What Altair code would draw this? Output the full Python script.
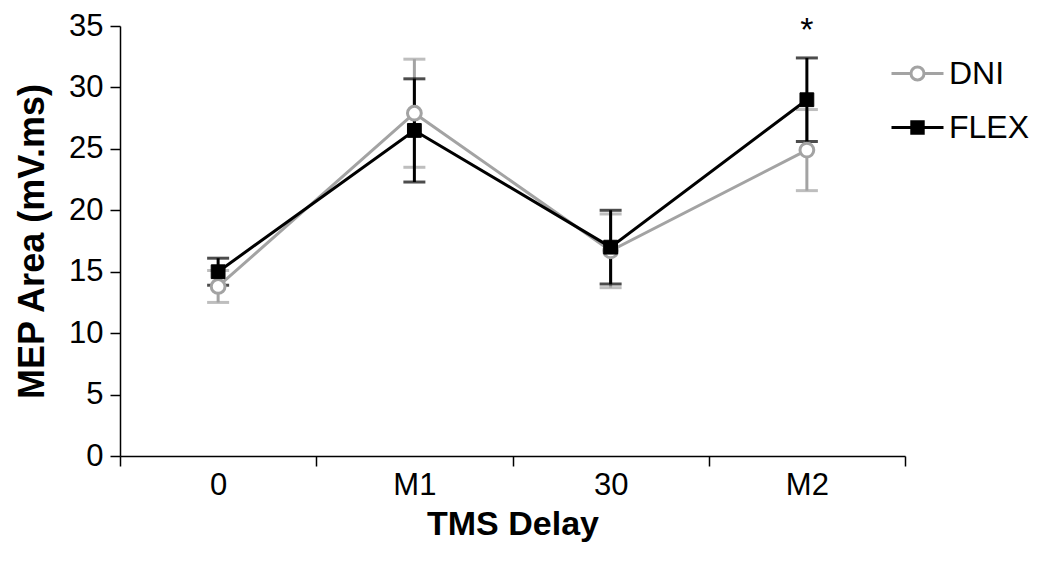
import altair as alt
import pandas as pd

cats = ["0", "M1", "30", "M2"]
series_names = ["DNI", "FLEX"]
dni_mean = [13.8, 27.9, 16.7, 24.9]
dni_err = [1.3, 4.4, 3.0, 3.3]
flex_mean = [15.0, 26.5, 17.0, 29.0]
flex_err = [1.1, 4.2, 3.0, 3.4]
sig_cat = ["M2"]
sig_label = ["*"]
sig_y = [36.0]

GREY = "#a3a3a3"
BLACK = "#000000"
FONT = "Liberation Sans"

rows = []
for s, means, errs in [("DNI", dni_mean, dni_err), ("FLEX", flex_mean, flex_err)]:
    for c, m, e in zip(cats, means, errs):
        rows.append({"series": s, "cat": c, "mean": m, "lo": m - e, "hi": m + e})
df = pd.DataFrame(rows)
sig_df = pd.DataFrame({"cat": sig_cat, "label": sig_label, "y": sig_y})

xenc = alt.X(
    "cat:N", sort=cats,
    scale=alt.Scale(type="band", paddingInner=0, paddingOuter=0),
    axis=alt.Axis(title="TMS Delay", tickBand="extent", labelAngle=0),
)
yscale = alt.Scale(domain=[0, 35], nice=False, zero=True)

layers = []
for s in series_names:
    d = df[df.series == s]
    col = GREY if s == "DNI" else BLACK
    base = alt.Chart(d)
    rule = base.mark_rule(strokeWidth=3, color=col).encode(
        x=xenc,
        y=alt.Y("lo:Q", scale=yscale,
                axis=alt.Axis(title="MEP Area (mV.ms)", values=list(range(0, 36, 5)))),
        y2="hi:Q",
    )
    cap_lo = base.mark_tick(thickness=3, size=22, color=col).encode(x=xenc, y=alt.Y("lo:Q", scale=yscale))
    cap_hi = base.mark_tick(thickness=3, size=22, color=col).encode(x=xenc, y=alt.Y("hi:Q", scale=yscale))
    line = base.mark_line(strokeWidth=3, color=col).encode(x=xenc, y=alt.Y("mean:Q", scale=yscale))
    layers += [rule, cap_lo, cap_hi, line]

dni_pts = alt.Chart(df[df.series == "DNI"]).mark_point(
    shape="circle", size=190, filled=True, fill="white", stroke=GREY, strokeWidth=3, opacity=1
).encode(x=xenc, y=alt.Y("mean:Q", scale=yscale))
flex_pts = alt.Chart(df[df.series == "FLEX"]).mark_point(
    shape="square", size=190, filled=True, fill=BLACK, stroke=BLACK, strokeWidth=1, opacity=1
).encode(x=xenc, y=alt.Y("mean:Q", scale=yscale))

star = alt.Chart(sig_df).mark_text(fontSize=34, font=FONT, baseline="top").encode(
    x=xenc, y=alt.Y("y:Q", scale=yscale), text="label:N"
)

dni_path = "M-1,0H-0.25 M0.25,0H1 M-0.25,0A0.25,0.25 0 1,1 0.25,0A0.25,0.25 0 1,1 -0.25,0Z"
flex_path = "M-1,0H1 M-0.22,-0.22H0.22V0.22H-0.22Z"
legend_props = dict(
    title=None, orient="none", legendX=770, legendY=20,
    symbolSize=2704, symbolStrokeWidth=3, labelFontSize=32, labelFont=FONT,
    labelOffset=4, rowPadding=10, labelColor="black",
)
legend_layer = alt.Chart(df).transform_filter("false").mark_point(filled=True, opacity=1).encode(
    x=xenc, y=alt.Y("mean:Q", scale=yscale),
    shape=alt.Shape("series:N", scale=alt.Scale(domain=series_names, range=[dni_path, flex_path]),
                    legend=alt.Legend(**legend_props)),
    fill=alt.Fill("series:N", scale=alt.Scale(domain=series_names, range=["white", BLACK]),
                  legend=alt.Legend(**legend_props)),
    stroke=alt.Stroke("series:N", scale=alt.Scale(domain=series_names, range=[GREY, BLACK]),
                      legend=alt.Legend(**legend_props)),
)

chart = alt.layer(*layers, dni_pts, flex_pts, star, legend_layer).properties(
    width=785, height=430,
    autosize=alt.AutoSizeParams(type="none"),
    padding={"left": 112, "top": 18, "right": 130, "bottom": 90},
).configure_view(stroke=None).configure_axis(
    grid=False, domainColor="black", domainWidth=1.5, tickColor="black", tickWidth=1.5,
    tickSize=10, labelFont=FONT, labelFontSize=31, labelColor="black",
    titleFont=FONT, titleFontWeight="bold", titleColor="black",
).configure_axisX(labelPadding=4, titleFontSize=34, titlePadding=7).configure_axisY(
    labelPadding=7, titleFontSize=36, titlePadding=17
)

chart.save("out.html", embed_options={"renderer": "svg", "actions": False})
